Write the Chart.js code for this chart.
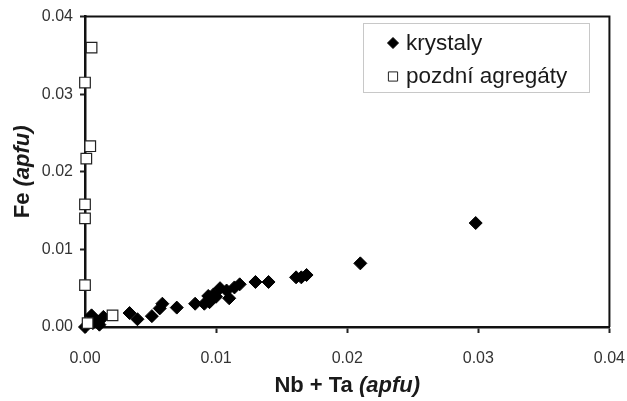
<!DOCTYPE html>
<html>
<head>
<meta charset="utf-8">
<script src="https://cdn.jsdelivr.net/npm/chart.js@4/dist/chart.umd.min.js"></script>
<style>
  html, body { margin: 0; padding: 0; background: #fff; }
  #wrap { width: 627px; height: 401px; position: relative; }
</style>
</head>
<body>
<div id="wrap"><canvas id="c"></canvas></div>
<script>
// krystaly (plné kosočtverce)
const crystalX = [0.0, 0.0005, 0.0006, 0.001, 0.0011, 0.0014, 0.0034, 0.004, 0.0051, 0.0057, 0.0059,
  0.007, 0.0084, 0.0091, 0.0094, 0.0095, 0.0098, 0.01, 0.0103, 0.0108, 0.011, 0.0114, 0.0118,
  0.013, 0.014, 0.0161, 0.0165, 0.0169, 0.021, 0.0298];
const crystalY = [0.0, 0.0015, 0.0005, 0.0007, 0.0003, 0.0013, 0.0018, 0.001, 0.0014, 0.0024, 0.003,
  0.0025, 0.003, 0.003, 0.004, 0.0032, 0.0042, 0.0039, 0.005, 0.0047, 0.0037, 0.0051, 0.0055,
  0.0058, 0.0058, 0.0064, 0.0064, 0.0067, 0.0082, 0.0134];

// pozdní agregáty (prázdné čtverce)
const lateX = [0.0005, 0.0, 0.0004, 0.0001, 0.0, 0.0, 0.0, 0.0002, 0.0021];
const lateY = [0.036, 0.0315, 0.0233, 0.0217, 0.0158, 0.014, 0.0054, 0.0005, 0.0015];

const seriesNames = ["krystaly", "pozdní agregáty"];
const tickValues = [0, 0.01, 0.02, 0.03, 0.04];

const FONT = "'Liberation Sans', Arial, sans-serif";

function toPoints(xs, ys) {
  return xs.map((x, i) => ({ x: x, y: ys[i] }));
}

// rámeček, legenda a popisky os
const decor = {
  id: "decor",
  beforeDatasetsDraw(chart) {
    const { ctx, chartArea: a } = chart;
    ctx.save();
    ctx.strokeStyle = "#111";
    ctx.lineWidth = 2;
    ctx.beginPath();
    ctx.moveTo(a.left, a.top);
    ctx.lineTo(a.right, a.top);
    ctx.lineTo(a.right, a.bottom);
    ctx.stroke();
    ctx.restore();
  },
  afterDraw(chart) {
    const { ctx, chartArea: a } = chart;
    ctx.save();

    // legenda
    ctx.strokeStyle = "#c8c8c8";
    ctx.lineWidth = 1;
    ctx.strokeRect(363.5, 23.5, 226, 69);

    const ds = chart.data.datasets;
    const rows = [
      { ds: ds[0], y: 43, base: 49.5 },
      { ds: ds[1], y: 76.5, base: 83 },
    ];
    rows.forEach((r) => {
      ctx.fillStyle = r.ds.backgroundColor;
      ctx.strokeStyle = r.ds.borderColor;
      ctx.lineWidth = 1;
      Chart.helpers.drawPoint(ctx, {
        pointStyle: r.ds.pointStyle,
        radius: r.ds.pointStyle === "rect" ? 6.5 : 5.5,
        borderWidth: 1,
        rotation: 0,
      }, 393, r.y);
      ctx.fillStyle = "#1a1a1a";
      ctx.font = "22.5px " + FONT;
      ctx.textAlign = "left";
      ctx.textBaseline = "alphabetic";
      ctx.fillText(r.ds.label, 406, r.base);
    });

    // popisky os: tučně + kurzíva
    function mixed(parts, cx, baseY, rotate) {
      ctx.save();
      ctx.translate(cx, baseY);
      if (rotate) ctx.rotate(-Math.PI / 2);
      let total = 0;
      parts.forEach((p) => { ctx.font = p.font; total += ctx.measureText(p.text).width; });
      let x = -total / 2;
      ctx.fillStyle = "#1a1a1a";
      ctx.textAlign = "left";
      ctx.textBaseline = "alphabetic";
      parts.forEach((p) => {
        ctx.font = p.font;
        ctx.fillText(p.text, x, 0);
        x += ctx.measureText(p.text).width;
      });
      ctx.restore();
    }
    mixed([
      { text: "Nb + Ta ", font: "bold 22px " + FONT },
      { text: "(apfu)", font: "italic bold 22px " + FONT },
    ], (a.left + a.right) / 2, 391.5, false);
    mixed([
      { text: "Fe ", font: "bold 22px " + FONT },
      { text: "(apfu)", font: "italic bold 22px " + FONT },
    ], 29, (a.top + a.bottom) / 2, true);

    ctx.restore();
  },
};

const axisCommon = {
  type: "linear",
  min: 0,
  max: 0.04,
  afterBuildTicks: (s) => { s.ticks = tickValues.map((v) => ({ value: v })); },
  grid: {
    display: true,
    drawOnChartArea: false,
    drawTicks: true,
    tickColor: "#222",
    tickWidth: 2,
  },
  border: { display: true, color: "#111", width: 2.5 },
  ticks: {
    color: "#333",
    font: { family: FONT, size: 16 },
    callback: (v) => Number(v).toFixed(2),
  },
};

new Chart(document.getElementById("c"), {
  type: "scatter",
  data: {
    datasets: [
      {
        label: seriesNames[0],
        data: toPoints(crystalX, crystalY),
        pointStyle: "rectRot",
        pointRadius: 6.5,
        pointHoverRadius: 6.5,
        backgroundColor: "#000",
        borderColor: "#000",
        borderWidth: 1,
        clip: false,
        order: 1,
      },
      {
        label: seriesNames[1],
        data: toPoints(lateX, lateY),
        pointStyle: "rect",
        pointRadius: 7.5,
        pointHoverRadius: 7.5,
        backgroundColor: "#fff",
        borderColor: "#222",
        borderWidth: 1.2,
        clip: false,
        order: 0,
      },
    ],
  },
  options: {
    responsive: true,
    maintainAspectRatio: false,
    animation: false,
    layout: { padding: { top: 15, right: 17, left: 0, bottom: 0 } },
    plugins: { legend: { display: false }, tooltip: { enabled: false } },
    scales: {
      x: {
        ...axisCommon,
        position: "bottom",
        grid: { ...axisCommon.grid, tickLength: 6 },
        // velká výška řádku posune popisky dolů bez velkého paddingu
        ticks: { ...axisCommon.ticks, font: { family: FONT, size: 16, lineHeight: 2.95 }, padding: 2, maxRotation: 0 },
        afterFit: (s) => { s.height = 74; },
      },
      y: {
        ...axisCommon,
        position: "left",
        grid: { ...axisCommon.grid, tickLength: 5 },
        ticks: { ...axisCommon.ticks, padding: 7 },
        afterFit: (s) => { s.width = 85; },
      },
    },
  },
  plugins: [decor],
});
</script>
</body>
</html>
